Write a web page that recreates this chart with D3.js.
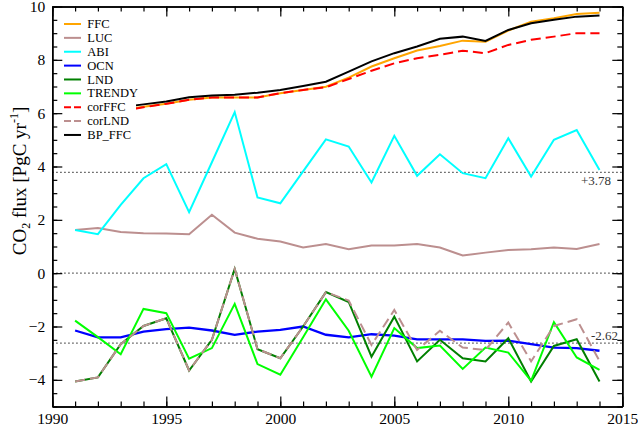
<!DOCTYPE html>
<html>
<head>
<meta charset="utf-8">
<script src="https://cdn.jsdelivr.net/npm/d3@7"></script>
<style>
  html, body { margin: 0; padding: 0; background: #fff; }
  svg { display: block; }
</style>
</head>
<body>
<svg id="chart" width="638" height="428" style="font-family: 'Liberation Serif', 'DejaVu Serif', serif;"></svg>
<script>
// ---------------- data ----------------
const years = [1991,1992,1993,1994,1995,1996,1997,1998,1999,2000,2001,2002,2003,2004,2005,2006,2007,2008,2009,2010,2011,2012,2013,2014];
const FFC    = [6.10,6.05,6.10,6.24,6.35,6.50,6.59,6.59,6.59,6.75,6.87,6.99,7.33,7.75,8.06,8.35,8.52,8.72,8.68,9.10,9.43,9.56,9.72,9.77];
const LUC    = [1.62,1.69,1.54,1.50,1.49,1.46,2.19,1.52,1.29,1.19,0.96,1.09,0.90,1.04,1.04,1.09,0.96,0.66,0.77,0.87,0.90,0.96,0.91,1.09];
const ABI    = [1.62,1.46,2.56,3.56,4.09,2.29,4.16,6.04,2.84,2.62,3.82,5.02,4.75,3.40,5.15,3.65,4.46,3.75,3.56,5.06,3.62,5.00,5.37,3.87];
const OCN    = [-2.15,-2.41,-2.41,-2.19,-2.10,-2.04,-2.15,-2.31,-2.19,-2.13,-2.00,-2.31,-2.41,-2.29,-2.34,-2.48,-2.48,-2.48,-2.54,-2.53,-2.66,-2.79,-2.81,-2.91];
const LND    = [-4.06,-3.91,-2.66,-1.98,-1.69,-3.65,-2.50,0.16,-2.85,-3.19,-2.00,-0.71,-1.08,-3.13,-1.63,-3.31,-2.50,-3.19,-3.31,-2.44,-4.06,-2.73,-2.48,-4.06];
const TRENDY = [-1.78,-2.40,-3.04,-1.34,-1.50,-3.21,-2.81,-1.15,-3.41,-3.81,-2.40,-0.98,-2.16,-3.88,-2.06,-2.81,-2.71,-3.59,-2.79,-2.98,-4.04,-1.84,-3.16,-3.63];
const corFFC = [6.08,6.03,6.08,6.22,6.35,6.50,6.59,6.59,6.59,6.75,6.87,6.97,7.28,7.59,7.87,8.06,8.19,8.34,8.25,8.56,8.75,8.87,9.00,9.00];
const corLND = [-4.06,-3.91,-2.66,-1.98,-1.69,-3.65,-2.50,0.16,-2.85,-3.19,-2.00,-0.71,-1.03,-2.69,-1.38,-2.88,-2.16,-2.79,-2.88,-1.85,-3.31,-1.98,-1.73,-3.29];
const BP_FFC = [6.12,6.15,6.22,6.33,6.44,6.60,6.66,6.69,6.77,6.87,7.02,7.18,7.56,7.94,8.25,8.50,8.79,8.87,8.71,9.12,9.37,9.50,9.62,9.66];

const seriesNames  = ["FFC","LUC","ABI","OCN","LND","TRENDY","corFFC","corLND","BP_FFC"];
const seriesValues = [FFC, LUC, ABI, OCN, LND, TRENDY, corFFC, corLND, BP_FFC];
const seriesColors = ["#FFA500","#BC8F8F","#00FFFF","#0000FF","#008000","#00FF00","#FF0000","#BC8F8F","#000000"];
const seriesDash   = [null,null,null,null,null,null,"10,5","10,5",null];
const refValues = [3.78, 0, -2.62];
const refLabels = ["+3.78", null, "-2.62"];
const xTicksMajor = [1990,1995,2000,2005,2010,2015];
const yTicksMajor = [-4,-2,0,2,4,6,8,10];

const FONT = "'Liberation Serif', 'DejaVu Serif', serif";

// ---------------- layout ----------------
const svg = d3.select("#chart");
const L = 52.3, R = 622.3, T = 6.5, B = 406.5;
const x = d3.scaleLinear().domain([1990, 2015]).range([L, R]);
const y = d3.scaleLinear().domain([-5, 10]).range([B, T]);

// reference dotted lines
refValues.forEach((v) => {
  svg.append("line")
    .attr("x1", L).attr("x2", R)
    .attr("y1", y(v)).attr("y2", y(v))
    .attr("stroke", "#333").attr("stroke-width", 1.2)
    .attr("stroke-dasharray", "1.3,2.7");
});

// series
const line = d3.line().x((d, i) => x(years[i])).y(d => y(d));
seriesValues.forEach((vals, k) => {
  svg.append("path")
    .datum(vals)
    .attr("d", line)
    .attr("fill", "none")
    .attr("stroke", seriesColors[k])
    .attr("stroke-width", k === 3 ? 2.3 : 2)
    .attr("stroke-linejoin", "miter")
    .attr("stroke-dasharray", seriesDash[k]);
});

// ref labels
svg.append("text").attr("x", 611).attr("y", 185).attr("text-anchor", "end")
  .style("font-family", FONT).attr("font-size", 13).attr("fill", "#333").text(refLabels[0]);
svg.append("text").attr("x", 618).attr("y", 340).attr("text-anchor", "end")
  .style("font-family", FONT).attr("font-size", 13).attr("fill", "#333").text(refLabels[2]);

// legend (white background)
const lg = svg.append("g");
lg.append("rect").attr("x", 59).attr("y", 13).attr("width", 77).attr("height", 129).attr("fill", "#fff");
seriesNames.forEach((n, i) => {
  const yy = 24 + i * 13.87;
  lg.append("line").attr("x1", 64).attr("x2", 81).attr("y1", yy).attr("y2", yy)
    .attr("stroke", seriesColors[i]).attr("stroke-width", 2)
    .attr("stroke-dasharray", seriesDash[i] ? "7,3" : null);
  lg.append("text").attr("x", 87.3).attr("y", yy).attr("dy", "0.33em")
    .style("font-family", FONT).attr("font-size", 12.5).attr("fill", "#000").text(n);
});

// axes
const range1 = d3.range(1990, 2016, 1);
const rangeY = d3.range(-5, 10.01, 0.5);
function styleAxis(g) {
  g.attr("font-family", null);
  g.selectAll("path.domain").attr("stroke", "#000").attr("stroke-width", 1.5);
  g.selectAll(".tick line").attr("stroke", "#000").attr("stroke-width", 1.2);
  g.selectAll("text").style("font-family", FONT).attr("fill", "#000");
}
// bottom
svg.append("g").attr("transform", `translate(0,${B})`)
  .call(d3.axisBottom(x).tickValues(range1).tickSize(-5).tickFormat("").tickSizeOuter(0))
  .call(styleAxis);
svg.append("g").attr("transform", `translate(0,${B})`)
  .call(d3.axisBottom(x).tickValues(xTicksMajor).tickSize(-10).tickPadding(6).tickFormat(d3.format("d")).tickSizeOuter(0))
  .call(styleAxis)
  .call(g => g.selectAll("text").attr("font-size", 15.5).attr("dy", "0.72em"));
// top
svg.append("g").attr("transform", `translate(0,${T})`)
  .call(d3.axisTop(x).tickValues(range1).tickSize(-5).tickFormat("").tickSizeOuter(0))
  .call(styleAxis);
svg.append("g").attr("transform", `translate(0,${T})`)
  .call(d3.axisTop(x).tickValues(xTicksMajor).tickSize(-10).tickFormat("").tickSizeOuter(0))
  .call(styleAxis);
// left
svg.append("g").attr("transform", `translate(${L},0)`)
  .call(d3.axisLeft(y).tickValues(rangeY).tickSize(-5).tickFormat("").tickSizeOuter(0))
  .call(styleAxis);
svg.append("g").attr("transform", `translate(${L},0)`)
  .call(d3.axisLeft(y).tickValues(yTicksMajor).tickSize(-10).tickPadding(7).tickFormat(d3.format("d")).tickSizeOuter(0))
  .call(styleAxis)
  .call(g => g.selectAll("text").attr("font-size", 15.5));
// right
svg.append("g").attr("transform", `translate(${R},0)`)
  .call(d3.axisRight(y).tickValues(rangeY).tickSize(-5).tickFormat("").tickSizeOuter(0))
  .call(styleAxis);
svg.append("g").attr("transform", `translate(${R},0)`)
  .call(d3.axisRight(y).tickValues(yTicksMajor).tickSize(-10).tickFormat("").tickSizeOuter(0))
  .call(styleAxis);

// y-axis title
const yt = svg.append("text")
  .attr("transform", "translate(26,181) rotate(-90)")
  .attr("text-anchor", "middle")
  .style("font-family", FONT)
  .attr("font-size", 19).attr("fill", "#000");
yt.append("tspan").text("CO");
yt.append("tspan").attr("font-size", 12).attr("dy", 4).text("2");
yt.append("tspan").attr("dy", -4).text(" flux [PgC yr");
yt.append("tspan").attr("font-size", 12).attr("dy", -8).text("-1");
yt.append("tspan").attr("dy", 8).text("]");
</script>
</body>
</html>
